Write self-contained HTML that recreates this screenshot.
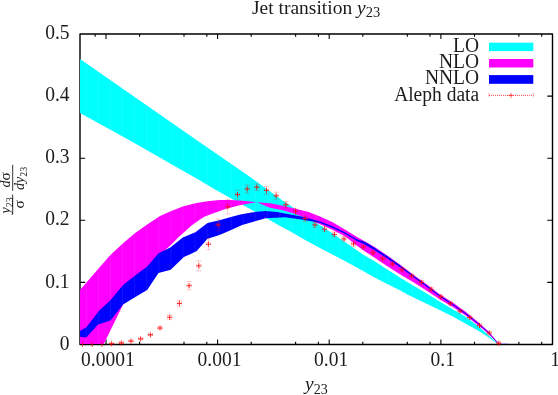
<!DOCTYPE html>
<html><head><meta charset="utf-8"><style>
html,body{margin:0;padding:0;background:#fff;}
body{width:558px;height:395px;overflow:hidden;font-family:"Liberation Serif",serif;}
svg{display:block;}
</style></head><body>
<svg width="558" height="395" viewBox="0 0 558 395">
<defs><filter id="gs" filterUnits="userSpaceOnUse" x="0" y="0" width="558" height="395" color-interpolation-filters="sRGB"><feColorMatrix type="saturate" values="0"/></filter></defs>
<rect width="558" height="395" fill="#fff"/>
<g stroke="#000" stroke-width="1.1" fill="none">
<rect stroke-width="1.4" stroke-linejoin="round" x="80.0" y="34.0" width="472.5" height="310.5"/>
<path d="M95.1 344.5v-2.7M95.1 34.0v2.7M106.0 344.5v-4.9M106.0 34.0v4.9M139.6 344.5v-2.7M139.6 34.0v2.7M184.0 344.5v-2.7M184.0 34.0v2.7M206.8 344.5v-2.7M206.8 34.0v2.7M217.6 344.5v-4.9M217.6 34.0v4.9M251.2 344.5v-2.7M251.2 34.0v2.7M295.6 344.5v-2.7M295.6 34.0v2.7M318.4 344.5v-2.7M318.4 34.0v2.7M329.2 344.5v-4.9M329.2 34.0v4.9M362.8 344.5v-2.7M362.8 34.0v2.7M407.3 344.5v-2.7M407.3 34.0v2.7M430.0 344.5v-2.7M430.0 34.0v2.7M440.9 344.5v-4.9M440.9 34.0v4.9M474.5 344.5v-2.7M474.5 34.0v2.7M518.9 344.5v-2.7M518.9 34.0v2.7M541.7 344.5v-2.7M541.7 34.0v2.7M80.0 282.4h5.2M552.5 282.4h-5.2M80.0 220.3h5.2M552.5 220.3h-5.2M80.0 158.2h5.2M552.5 158.2h-5.2M80.0 96.1h5.2M552.5 96.1h-5.2"/>
</g>
<clipPath id="c"><rect x="80.0" y="34.0" width="472.5" height="310.0"/></clipPath>
<g clip-path="url(#c)">
<clipPath id="k1"><polygon points="79.6,58.6 196.5,140.0 247.3,175.0 285.0,202.2 320.0,225.3 332.7,233.5 340.9,239.2 352.9,247.4 363.0,254.6 375.0,261.5 387.7,269.8 400.3,277.8 413.0,285.4 425.6,292.8 440.0,301.8 452.7,309.2 465.3,316.5 478.0,326.0 490.6,337.0 498.6,344.0 498.6,344.0 495.7,342.5 490.6,338.7 478.0,330.4 465.3,323.5 452.7,316.5 440.0,310.2 408.5,295.0 400.3,290.6 387.7,284.2 375.0,277.7 360.0,269.3 345.3,261.3 320.0,247.9 304.2,239.4 290.0,231.3 278.3,224.9 270.0,220.2 255.5,211.9 215.0,189.5 200.0,180.6 127.7,139.2 79.6,112.7"/></clipPath><polygon fill="#00ffff" points="79.6,58.6 196.5,140.0 247.3,175.0 285.0,202.2 320.0,225.3 332.7,233.5 340.9,239.2 352.9,247.4 363.0,254.6 375.0,261.5 387.7,269.8 400.3,277.8 413.0,285.4 425.6,292.8 440.0,301.8 452.7,309.2 465.3,316.5 478.0,326.0 490.6,337.0 498.6,344.0 498.6,344.0 495.7,342.5 490.6,338.7 478.0,330.4 465.3,323.5 452.7,316.5 440.0,310.2 408.5,295.0 400.3,290.6 387.7,284.2 375.0,277.7 360.0,269.3 345.3,261.3 320.0,247.9 304.2,239.4 290.0,231.3 278.3,224.9 270.0,220.2 255.5,211.9 215.0,189.5 200.0,180.6 127.7,139.2 79.6,112.7"/><path clip-path="url(#k1)" d="M86.3 34.0V344.5M98.4 34.0V344.5M110.5 34.0V344.5M122.5 34.0V344.5M134.6 34.0V344.5M146.7 34.0V344.5M158.8 34.0V344.5M170.9 34.0V344.5M182.9 34.0V344.5M195.0 34.0V344.5M207.1 34.0V344.5M219.2 34.0V344.5M231.3 34.0V344.5M243.3 34.0V344.5M255.4 34.0V344.5M267.5 34.0V344.5M279.6 34.0V344.5M291.7 34.0V344.5M303.7 34.0V344.5M315.8 34.0V344.5M327.9 34.0V344.5M340.0 34.0V344.5M352.1 34.0V344.5M364.1 34.0V344.5M376.2 34.0V344.5M388.3 34.0V344.5M400.4 34.0V344.5M412.5 34.0V344.5M424.5 34.0V344.5M436.6 34.0V344.5M448.7 34.0V344.5M460.8 34.0V344.5M472.9 34.0V344.5M484.9 34.0V344.5M497.0 34.0V344.5" stroke="#fff" stroke-opacity="0.11" stroke-width="0.7" fill="none"/>
<clipPath id="k2"><polygon points="79.6,290.5 99.0,268.0 110.4,255.0 123.1,243.2 134.5,233.5 147.2,224.5 160.0,215.9 170.1,211.5 182.8,206.4 195.4,203.2 207.5,201.3 219.5,200.1 230.0,200.0 240.0,200.6 256.8,202.2 270.0,203.3 282.7,205.8 295.3,208.8 308.0,211.8 320.6,216.7 332.7,222.2 345.3,229.8 358.0,237.4 364.3,241.0 375.0,247.2 387.7,255.8 400.3,264.8 413.0,274.4 425.6,283.6 440.0,294.4 452.7,302.6 465.3,311.5 478.0,321.9 488.1,330.9 498.2,342.7 499.0,344.0 498.6,344.0 497.2,342.7 488.1,333.4 478.0,325.2 465.3,315.3 452.7,307.0 440.0,299.4 425.6,289.9 413.0,281.9 400.3,274.6 387.7,266.6 375.0,258.0 364.3,250.9 358.0,246.4 345.3,236.5 332.7,230.1 320.6,224.4 308.0,219.1 295.3,214.0 282.7,210.3 270.0,207.7 256.8,202.2 240.5,205.0 230.0,207.7 225.3,209.0 217.0,212.1 210.1,214.5 204.3,216.8 200.0,219.6 191.6,225.6 179.0,236.8 171.4,244.4 158.5,256.0 147.2,268.0 134.5,284.0 123.1,304.4 103.3,345.0 79.6,345.0"/></clipPath><polygon fill="#ff00ff" points="79.6,290.5 99.0,268.0 110.4,255.0 123.1,243.2 134.5,233.5 147.2,224.5 160.0,215.9 170.1,211.5 182.8,206.4 195.4,203.2 207.5,201.3 219.5,200.1 230.0,200.0 240.0,200.6 256.8,202.2 270.0,203.3 282.7,205.8 295.3,208.8 308.0,211.8 320.6,216.7 332.7,222.2 345.3,229.8 358.0,237.4 364.3,241.0 375.0,247.2 387.7,255.8 400.3,264.8 413.0,274.4 425.6,283.6 440.0,294.4 452.7,302.6 465.3,311.5 478.0,321.9 488.1,330.9 498.2,342.7 499.0,344.0 498.6,344.0 497.2,342.7 488.1,333.4 478.0,325.2 465.3,315.3 452.7,307.0 440.0,299.4 425.6,289.9 413.0,281.9 400.3,274.6 387.7,266.6 375.0,258.0 364.3,250.9 358.0,246.4 345.3,236.5 332.7,230.1 320.6,224.4 308.0,219.1 295.3,214.0 282.7,210.3 270.0,207.7 256.8,202.2 240.5,205.0 230.0,207.7 225.3,209.0 217.0,212.1 210.1,214.5 204.3,216.8 200.0,219.6 191.6,225.6 179.0,236.8 171.4,244.4 158.5,256.0 147.2,268.0 134.5,284.0 123.1,304.4 103.3,345.0 79.6,345.0"/><path clip-path="url(#k2)" d="M86.3 34.0V344.5M98.4 34.0V344.5M110.5 34.0V344.5M122.5 34.0V344.5M134.6 34.0V344.5M146.7 34.0V344.5M158.8 34.0V344.5M170.9 34.0V344.5M182.9 34.0V344.5M195.0 34.0V344.5M207.1 34.0V344.5M219.2 34.0V344.5M231.3 34.0V344.5M243.3 34.0V344.5M255.4 34.0V344.5M267.5 34.0V344.5M279.6 34.0V344.5M291.7 34.0V344.5M303.7 34.0V344.5M315.8 34.0V344.5M327.9 34.0V344.5M340.0 34.0V344.5M352.1 34.0V344.5M364.1 34.0V344.5M376.2 34.0V344.5M388.3 34.0V344.5M400.4 34.0V344.5M412.5 34.0V344.5M424.5 34.0V344.5M436.6 34.0V344.5M448.7 34.0V344.5M460.8 34.0V344.5M472.9 34.0V344.5M484.9 34.0V344.5M497.0 34.0V344.5" stroke="#fff" stroke-opacity="0.11" stroke-width="0.7" fill="none"/>
<clipPath id="k3"><polygon points="79.6,331.3 86.3,327.2 92.0,320.0 99.0,310.8 110.4,300.2 123.1,285.0 134.5,276.1 147.2,266.5 158.5,253.3 170.3,247.6 182.8,237.6 195.4,232.3 207.5,223.1 219.5,220.3 230.0,217.3 240.3,214.5 253.0,212.2 265.6,211.1 277.0,211.9 285.0,213.4 301.3,216.6 313.9,219.8 320.0,221.6 332.7,226.3 345.3,232.4 358.0,239.8 364.3,241.6 375.0,248.0 387.7,256.6 400.3,265.5 413.0,275.2 425.6,284.5 440.0,295.5 452.7,303.8 465.3,312.7 478.0,323.0 488.1,331.8 497.7,342.7 498.6,344.0 498.6,344.0 497.6,343.2 488.1,332.6 478.0,323.9 465.3,313.9 452.7,305.0 440.0,296.8 425.6,285.9 413.0,276.7 400.3,267.4 387.7,258.8 375.0,250.5 364.3,244.2 358.0,241.5 345.3,234.0 332.7,227.9 320.0,223.1 313.9,221.7 301.3,219.4 285.0,217.2 265.6,218.3 242.2,225.0 230.0,230.4 219.5,234.9 207.5,238.7 196.5,251.3 183.9,257.1 170.7,269.8 158.5,273.1 147.2,290.0 134.5,297.6 123.1,304.5 110.4,320.4 98.1,324.6 86.3,337.6 79.6,336.8"/></clipPath><polygon fill="#0000ff" points="79.6,331.3 86.3,327.2 92.0,320.0 99.0,310.8 110.4,300.2 123.1,285.0 134.5,276.1 147.2,266.5 158.5,253.3 170.3,247.6 182.8,237.6 195.4,232.3 207.5,223.1 219.5,220.3 230.0,217.3 240.3,214.5 253.0,212.2 265.6,211.1 277.0,211.9 285.0,213.4 301.3,216.6 313.9,219.8 320.0,221.6 332.7,226.3 345.3,232.4 358.0,239.8 364.3,241.6 375.0,248.0 387.7,256.6 400.3,265.5 413.0,275.2 425.6,284.5 440.0,295.5 452.7,303.8 465.3,312.7 478.0,323.0 488.1,331.8 497.7,342.7 498.6,344.0 498.6,344.0 497.6,343.2 488.1,332.6 478.0,323.9 465.3,313.9 452.7,305.0 440.0,296.8 425.6,285.9 413.0,276.7 400.3,267.4 387.7,258.8 375.0,250.5 364.3,244.2 358.0,241.5 345.3,234.0 332.7,227.9 320.0,223.1 313.9,221.7 301.3,219.4 285.0,217.2 265.6,218.3 242.2,225.0 230.0,230.4 219.5,234.9 207.5,238.7 196.5,251.3 183.9,257.1 170.7,269.8 158.5,273.1 147.2,290.0 134.5,297.6 123.1,304.5 110.4,320.4 98.1,324.6 86.3,337.6 79.6,336.8"/><path clip-path="url(#k3)" d="M86.3 34.0V344.5M98.4 34.0V344.5M110.5 34.0V344.5M122.5 34.0V344.5M134.6 34.0V344.5M146.7 34.0V344.5M158.8 34.0V344.5M170.9 34.0V344.5M182.9 34.0V344.5M195.0 34.0V344.5M207.1 34.0V344.5M219.2 34.0V344.5M231.3 34.0V344.5M243.3 34.0V344.5M255.4 34.0V344.5M267.5 34.0V344.5M279.6 34.0V344.5M291.7 34.0V344.5M303.7 34.0V344.5M315.8 34.0V344.5M327.9 34.0V344.5M340.0 34.0V344.5M352.1 34.0V344.5M364.1 34.0V344.5M376.2 34.0V344.5M388.3 34.0V344.5M400.4 34.0V344.5M412.5 34.0V344.5M424.5 34.0V344.5M436.6 34.0V344.5M448.7 34.0V344.5M460.8 34.0V344.5M472.9 34.0V344.5M484.9 34.0V344.5M497.0 34.0V344.5" stroke="#fff" stroke-opacity="0.11" stroke-width="0.7" fill="none"/>
<line x1="499" y1="343.7" x2="507.5" y2="343.7" stroke="#8484ff" stroke-width="0.8"/>
</g>
<g stroke="#ff0000" stroke-width="0.6" fill="none">
<path stroke-width="0.8" d="M82.6 341.7V346.9"/>
<path stroke-width="0.8" d="M92.3 341.7V346.9"/>
<path stroke-width="0.8" d="M102.0 341.7V346.9"/>
<path stroke-width="0.8" d="M109.0 343.7H114.2M111.6 341.1V346.3"/>
<path stroke-dasharray="0.9 0.9" stroke-width="0.6" stroke-opacity="0.6" d="M111.6 343.4V344.0M109.3 343.4H113.9M109.3 344.0H113.9M109.6 341.9V345.5M113.6 341.9V345.5"/>
<path stroke-width="0.8" d="M118.7 342.9H123.9M121.3 340.3V345.5"/>
<path stroke-dasharray="0.9 0.9" stroke-width="0.6" stroke-opacity="0.6" d="M121.3 342.6V343.2M119.0 342.6H123.6M119.0 343.2H123.6M119.3 341.1V344.7M123.3 341.1V344.7"/>
<path stroke-width="0.8" d="M128.4 341.1H133.6M131.0 338.5V343.7"/>
<path stroke-dasharray="0.9 0.9" stroke-width="0.6" stroke-opacity="0.6" d="M131.0 340.8V341.4M128.7 340.8H133.3M128.7 341.4H133.3M129.0 339.3V342.9M133.0 339.3V342.9"/>
<path stroke-width="0.8" d="M138.1 338.9H143.3M140.7 336.3V341.5"/>
<path stroke-dasharray="0.9 0.9" stroke-width="0.6" stroke-opacity="0.6" d="M140.7 338.6V339.2M138.4 338.6H143.0M138.4 339.2H143.0M138.7 337.1V340.7M142.7 337.1V340.7"/>
<path stroke-width="0.8" d="M147.8 334.8H153.0M150.4 332.2V337.4"/>
<path stroke-dasharray="0.9 0.9" stroke-width="0.6" stroke-opacity="0.6" d="M150.4 334.3V335.3M148.1 334.3H152.7M148.1 335.3H152.7M148.4 333.0V336.6M152.4 333.0V336.6"/>
<path stroke-width="0.8" d="M157.4 328.0H162.6M160.0 325.4V330.6"/>
<path stroke-dasharray="0.9 0.9" stroke-width="0.6" stroke-opacity="0.6" d="M160.0 326.9V329.1M157.7 326.9H162.3M157.7 329.1H162.3M158.0 326.2V329.8M162.0 326.2V329.8"/>
<path stroke-width="0.8" d="M167.1 317.3H172.3M169.7 314.7V319.9"/>
<path stroke-dasharray="0.9 0.9" stroke-width="0.6" stroke-opacity="0.6" d="M169.7 315.0V319.6M167.4 315.0H172.0M167.4 319.6H172.0M167.7 315.5V319.1M171.7 315.5V319.1"/>
<path stroke-width="0.8" d="M176.8 303.4H182.0M179.4 300.8V306.0"/>
<path stroke-dasharray="0.9 0.9" stroke-width="0.6" stroke-opacity="0.6" d="M179.4 300.2V306.6M177.1 300.2H181.7M177.1 306.6H181.7M177.4 301.6V305.2M181.4 301.6V305.2"/>
<path stroke-width="0.8" d="M186.5 285.7H191.7M189.1 283.1V288.3"/>
<path stroke-dasharray="0.9 0.9" stroke-width="0.6" stroke-opacity="0.6" d="M189.1 281.5V289.9M186.8 281.5H191.4M186.8 289.9H191.4M187.1 283.9V287.5M191.1 283.9V287.5"/>
<path stroke-width="0.8" d="M196.2 265.9H201.4M198.8 263.3V268.5"/>
<path stroke-dasharray="0.9 0.9" stroke-width="0.6" stroke-opacity="0.6" d="M198.8 260.9V270.9M196.5 260.9H201.1M196.5 270.9H201.1M196.8 264.1V267.7M200.8 264.1V267.7"/>
<path stroke-width="0.8" d="M205.8 244.2H211.0M208.4 241.6V246.8"/>
<path stroke-dasharray="0.9 0.9" stroke-width="0.6" stroke-opacity="0.6" d="M208.4 238.7V249.7M206.1 238.7H210.7M206.1 249.7H210.7M206.4 242.4V246.0M210.4 242.4V246.0"/>
<path stroke-width="0.8" d="M215.5 224.9H220.7M218.1 222.3V227.5"/>
<path stroke-dasharray="0.9 0.9" stroke-width="0.6" stroke-opacity="0.6" d="M218.1 219.2V230.6M215.8 219.2H220.4M215.8 230.6H220.4M216.1 223.1V226.7M220.1 223.1V226.7"/>
<path stroke-width="0.8" d="M225.2 206.7H230.4M227.8 204.1V209.3"/>
<path stroke-dasharray="0.9 0.9" stroke-width="0.6" stroke-opacity="0.6" d="M227.8 199.4V214.0M225.5 199.4H230.1M225.5 214.0H230.1M225.8 204.9V208.5M229.8 204.9V208.5"/>
<path stroke-width="0.8" d="M234.9 194.6H240.1M237.5 192.0V197.2"/>
<path stroke-dasharray="0.9 0.9" stroke-width="0.6" stroke-opacity="0.6" d="M237.5 190.2V199.0M235.2 190.2H239.8M235.2 199.0H239.8M235.5 192.8V196.4M239.5 192.8V196.4"/>
<path stroke-width="0.8" d="M244.6 189.0H249.8M247.2 186.4V191.6"/>
<path stroke-dasharray="0.9 0.9" stroke-width="0.6" stroke-opacity="0.6" d="M247.2 184.9V193.1M244.9 184.9H249.5M244.9 193.1H249.5M245.2 187.2V190.8M249.2 187.2V190.8"/>
<path stroke-width="0.8" d="M254.2 187.2H259.4M256.8 184.6V189.8"/>
<path stroke-dasharray="0.9 0.9" stroke-width="0.6" stroke-opacity="0.6" d="M256.8 183.9V190.5M254.5 183.9H259.1M254.5 190.5H259.1M254.8 185.4V189.0M258.8 185.4V189.0"/>
<path stroke-width="0.8" d="M263.9 190.3H269.1M266.5 187.7V192.9"/>
<path stroke-dasharray="0.9 0.9" stroke-width="0.6" stroke-opacity="0.6" d="M266.5 186.4V194.2M264.2 186.4H268.8M264.2 194.2H268.8M264.5 188.5V192.1M268.5 188.5V192.1"/>
<path stroke-width="0.8" d="M273.6 195.8H278.8M276.2 193.2V198.4"/>
<path stroke-dasharray="0.9 0.9" stroke-width="0.6" stroke-opacity="0.6" d="M276.2 192.0V199.6M273.9 192.0H278.5M273.9 199.6H278.5M274.2 194.0V197.6M278.2 194.0V197.6"/>
<path stroke-width="0.8" d="M283.3 204.7H288.5M285.9 202.1V207.3"/>
<path stroke-dasharray="0.9 0.9" stroke-width="0.6" stroke-opacity="0.6" d="M285.9 201.5V207.9M283.6 201.5H288.2M283.6 207.9H288.2M283.9 202.9V206.5M287.9 202.9V206.5"/>
<path stroke-width="0.8" d="M293.0 211.3H298.2M295.6 208.7V213.9"/>
<path stroke-dasharray="0.9 0.9" stroke-width="0.6" stroke-opacity="0.6" d="M295.6 208.3V214.3M293.3 208.3H297.9M293.3 214.3H297.9M293.6 209.5V213.1M297.6 209.5V213.1"/>
<path stroke-width="0.8" d="M302.6 218.6H307.8M305.2 216.0V221.2"/>
<path stroke-dasharray="0.9 0.9" stroke-width="0.6" stroke-opacity="0.6" d="M305.2 215.8V221.4M302.9 215.8H307.5M302.9 221.4H307.5M303.2 216.8V220.4M307.2 216.8V220.4"/>
<path stroke-width="0.8" d="M312.3 224.9H317.5M314.9 222.3V227.5"/>
<path stroke-dasharray="0.9 0.9" stroke-width="0.6" stroke-opacity="0.6" d="M314.9 222.3V227.5M312.6 222.3H317.2M312.6 227.5H317.2M312.9 223.1V226.7M316.9 223.1V226.7"/>
<path stroke-width="0.8" d="M322.0 229.2H327.2M324.6 226.6V231.8"/>
<path stroke-dasharray="0.9 0.9" stroke-width="0.6" stroke-opacity="0.6" d="M324.6 226.7V231.7M322.3 226.7H326.9M322.3 231.7H326.9M322.6 227.4V231.0M326.6 227.4V231.0"/>
<path stroke-width="0.8" d="M331.7 234.4H336.9M334.3 231.8V237.0"/>
<path stroke-dasharray="0.9 0.9" stroke-width="0.6" stroke-opacity="0.6" d="M334.3 232.0V236.8M332.0 232.0H336.6M332.0 236.8H336.6M332.3 232.6V236.2M336.3 232.6V236.2"/>
<path stroke-width="0.8" d="M341.4 238.9H346.6M344.0 236.3V241.5"/>
<path stroke-dasharray="0.9 0.9" stroke-width="0.6" stroke-opacity="0.6" d="M344.0 236.6V241.2M341.7 236.6H346.3M341.7 241.2H346.3M342.0 237.1V240.7M346.0 237.1V240.7"/>
<path stroke-width="0.8" d="M351.0 243.9H356.2M353.6 241.3V246.5"/>
<path stroke-dasharray="0.9 0.9" stroke-width="0.6" stroke-opacity="0.6" d="M353.6 241.7V246.1M351.3 241.7H355.9M351.3 246.1H355.9M351.6 242.1V245.7M355.6 242.1V245.7"/>
<path stroke-width="0.8" d="M360.7 246.9H365.9M363.3 244.3V249.5"/>
<path stroke-dasharray="0.9 0.9" stroke-width="0.6" stroke-opacity="0.6" d="M363.3 244.8V249.0M361.0 244.8H365.6M361.0 249.0H365.6M361.3 245.1V248.7M365.3 245.1V248.7"/>
<path stroke-width="0.8" d="M370.4 252.6H375.6M373.0 250.0V255.2"/>
<path stroke-dasharray="0.9 0.9" stroke-width="0.6" stroke-opacity="0.6" d="M373.0 250.6V254.6M370.7 250.6H375.3M370.7 254.6H375.3M371.0 250.8V254.4M375.0 250.8V254.4"/>
<path stroke-width="0.8" d="M380.1 258.7H385.3M382.7 256.1V261.3"/>
<path stroke-dasharray="0.9 0.9" stroke-width="0.6" stroke-opacity="0.6" d="M382.7 256.7V260.7M380.4 256.7H385.0M380.4 260.7H385.0M380.7 256.9V260.5M384.7 256.9V260.5"/>
<path stroke-width="0.8" d="M389.8 264.0H395.0M392.4 261.4V266.6"/>
<path stroke-dasharray="0.9 0.9" stroke-width="0.6" stroke-opacity="0.6" d="M392.4 262.1V265.9M390.1 262.1H394.7M390.1 265.9H394.7M390.4 262.2V265.8M394.4 262.2V265.8"/>
<path stroke-width="0.8" d="M399.4 269.7H404.6M402.0 267.1V272.3"/>
<path stroke-dasharray="0.9 0.9" stroke-width="0.6" stroke-opacity="0.6" d="M402.0 267.8V271.6M399.7 267.8H404.3M399.7 271.6H404.3M400.0 267.9V271.5M404.0 267.9V271.5"/>
<path stroke-width="0.8" d="M409.1 276.0H414.3M411.7 273.4V278.6"/>
<path stroke-dasharray="0.9 0.9" stroke-width="0.6" stroke-opacity="0.6" d="M411.7 274.2V277.8M409.4 274.2H414.0M409.4 277.8H414.0M409.7 274.2V277.8M413.7 274.2V277.8"/>
<path stroke-width="0.8" d="M418.8 282.3H424.0M421.4 279.7V284.9"/>
<path stroke-dasharray="0.9 0.9" stroke-width="0.6" stroke-opacity="0.6" d="M421.4 280.5V284.1M419.1 280.5H423.7M419.1 284.1H423.7M419.4 280.5V284.1M423.4 280.5V284.1"/>
<path stroke-width="0.8" d="M428.5 289.3H433.7M431.1 286.7V291.9"/>
<path stroke-dasharray="0.9 0.9" stroke-width="0.6" stroke-opacity="0.6" d="M431.1 287.6V291.0M428.8 287.6H433.4M428.8 291.0H433.4M429.1 287.5V291.1M433.1 287.5V291.1"/>
<path stroke-width="0.8" d="M438.2 296.7H443.4M440.8 294.1V299.3"/>
<path stroke-dasharray="0.9 0.9" stroke-width="0.6" stroke-opacity="0.6" d="M440.8 295.0V298.4M438.5 295.0H443.1M438.5 298.4H443.1M438.8 294.9V298.5M442.8 294.9V298.5"/>
<path stroke-width="0.8" d="M447.8 303.6H453.0M450.4 301.0V306.2"/>
<path stroke-dasharray="0.9 0.9" stroke-width="0.6" stroke-opacity="0.6" d="M450.4 302.0V305.2M448.1 302.0H452.7M448.1 305.2H452.7M448.4 301.8V305.4M452.4 301.8V305.4"/>
<path stroke-width="0.8" d="M457.5 311.2H462.7M460.1 308.6V313.8"/>
<path stroke-dasharray="0.9 0.9" stroke-width="0.6" stroke-opacity="0.6" d="M460.1 309.6V312.8M457.8 309.6H462.4M457.8 312.8H462.4M458.1 309.4V313.0M462.1 309.4V313.0"/>
<path stroke-width="0.8" d="M467.2 317.5H472.4M469.8 314.9V320.1"/>
<path stroke-dasharray="0.9 0.9" stroke-width="0.6" stroke-opacity="0.6" d="M469.8 316.0V319.0M467.5 316.0H472.1M467.5 319.0H472.1M467.8 315.7V319.3M471.8 315.7V319.3"/>
<path stroke-width="0.8" d="M476.9 325.4H482.1M479.5 322.8V328.0"/>
<path stroke-dasharray="0.9 0.9" stroke-width="0.6" stroke-opacity="0.6" d="M479.5 323.9V326.9M477.2 323.9H481.8M477.2 326.9H481.8M477.5 323.6V327.2M481.5 323.6V327.2"/>
<path stroke-width="0.8" d="M486.6 333.0H491.8M489.2 330.4V335.6"/>
<path stroke-dasharray="0.9 0.9" stroke-width="0.6" stroke-opacity="0.6" d="M489.2 331.6V334.4M486.9 331.6H491.5M486.9 334.4H491.5M487.2 331.2V334.8M491.2 331.2V334.8"/>
<path stroke-width="0.8" d="M496.2 343.2H501.4M498.8 340.6V345.8"/>
<path stroke-dasharray="0.9 0.9" stroke-width="0.6" stroke-opacity="0.6" d="M498.8 342.2V344.2M496.5 342.2H501.1M496.5 344.2H501.1M496.8 341.4V345.0M500.8 341.4V345.0"/>
</g>
<g font-family="'Liberation Serif', serif" font-size="19.5" fill="#1c1c1c" filter="url(#gs)">
<text transform="translate(69.60,349.60) scale(1,1.090)" text-anchor="end">0</text>
<text transform="translate(69.60,287.50) scale(1,1.090)" text-anchor="end">0.1</text>
<text transform="translate(69.60,225.40) scale(1,1.090)" text-anchor="end">0.2</text>
<text transform="translate(69.60,163.30) scale(1,1.090)" text-anchor="end">0.3</text>
<text transform="translate(69.60,101.20) scale(1,1.090)" text-anchor="end">0.4</text>
<text transform="translate(69.60,39.10) scale(1,1.090)" text-anchor="end">0.5</text>
<text transform="translate(107.87,366.00) scale(1,1.090)" text-anchor="middle">0.0001</text>
<text transform="translate(219.50,366.00) scale(1,1.090)" text-anchor="middle">0.001</text>
<text transform="translate(331.13,366.00) scale(1,1.090)" text-anchor="middle">0.01</text>
<text transform="translate(442.77,366.00) scale(1,1.090)" text-anchor="middle">0.1</text>
<text transform="translate(555.20,366.00) scale(1,1.090)" text-anchor="middle">1</text>
<text transform="translate(252.00,13.60) scale(1,0.990)" text-anchor="start">Jet transition <tspan font-style="italic">y</tspan><tspan font-size="14.5" dy="3.4">23</tspan></text>
<text transform="translate(305.00,390.30) scale(1,1.000)" text-anchor="start"><tspan font-style="italic">y</tspan><tspan font-size="14" dy="3.4">23</tspan></text>
<text transform="translate(479.10,51.75) scale(1,1.050)" text-anchor="end">LO</text>
<text transform="translate(479.10,68.05) scale(1,1.050)" text-anchor="end">NLO</text>
<text transform="translate(479.10,84.35) scale(1,1.050)" text-anchor="end">NNLO</text>
<text transform="translate(479.10,100.65) scale(1,1.050)" text-anchor="end">Aleph data</text>
</g>
<rect x="489.0" y="42.7" width="44.3" height="8.4" fill="#00ffff"/>
<rect x="489.0" y="59.0" width="44.3" height="8.5" fill="#ff00ff"/>
<rect x="489.0" y="75.1" width="44.3" height="8.7" fill="#0000ff"/>
<g stroke="#ff0000" fill="none"><path stroke-width="0.7" stroke-dasharray="1 1" d="M489 95.4H533.3M489 93.4v4M533.3 93.4v4"/><path stroke-width="0.6" d="M508.4 95.4h5.2M511 92.8v5.2"/></g>
<g filter="url(#gs)"><g transform="rotate(-90)" font-family="'Liberation Serif', serif" font-style="italic" font-size="14" fill="#1c1c1c">
<text x="-213.4" y="10.0">y<tspan font-style="normal" font-size="10" dy="2.5">23</tspan></text>
<text x="-208.6" y="23.6" font-style="normal" font-size="15.5">σ</text>
<text x="-187.4" y="10.0">d<tspan font-style="normal" font-size="15.5">σ</tspan></text>
<text x="-190.0" y="24.2">dy<tspan font-style="normal" font-size="10" dy="2.5">23</tspan></text>
<path stroke="#000" stroke-width="0.8" d="M-213.6 12.7H-194.6M-190.8 12.7H-164.8"/>
</g></g>
</svg>
</body></html>
